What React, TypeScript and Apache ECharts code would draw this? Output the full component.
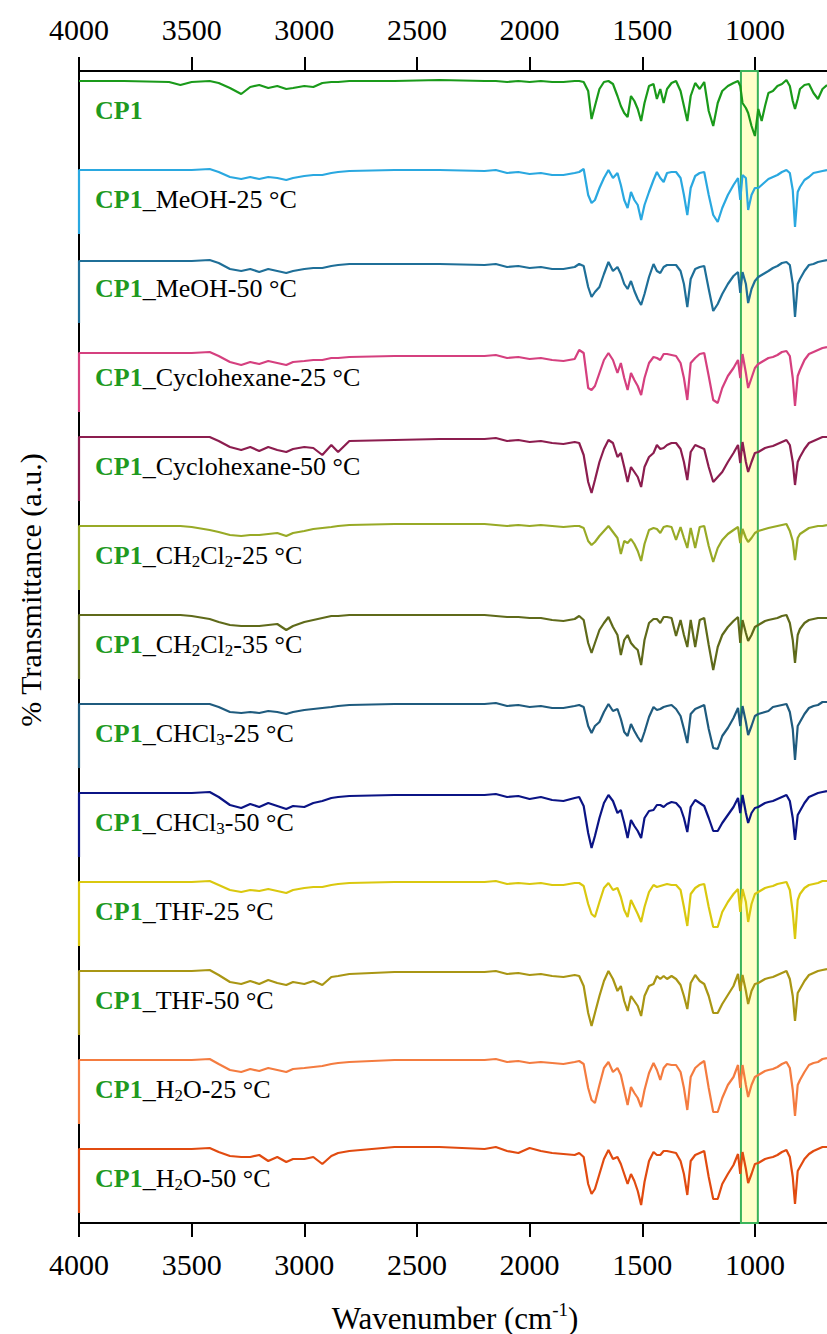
import React, { useEffect, useRef } from "react";
import * as echarts from "echarts";

// ---------- data ----------
const wavenumbers = [
  4000, 3800, 3600, 3550, 3500, 3420, 3380, 3330, 3280, 3240,
  3200, 3160, 3120, 3080, 3050, 3000, 2960, 2920, 2880, 2850,
  2800, 2600, 2400, 2200, 2150, 2100, 2050, 2000, 1950, 1900,
  1850, 1800,
  1780, 1760, 1740, 1725, 1710, 1690, 1670, 1650, 1630, 1610,
  1595, 1580, 1565, 1550, 1535, 1520, 1505, 1490, 1470, 1450,
  1435, 1420, 1405, 1390, 1370, 1350, 1330, 1315, 1300, 1285,
  1265, 1245, 1225, 1205, 1185, 1165, 1145, 1120, 1095, 1075,
  1065, 1055, 1040, 1030, 1015, 1000, 985, 970, 955, 940,
  920, 900, 880, 860, 845, 832, 822, 810, 800, 780,
  760, 740, 720, 700, 680,
];

// relative transmittance of each spectrum (0 = its own baseline, negative = absorption)
const cp1 = [
  0, 0, -1, -4, -1, 0, -2, -7, -13, -6,
  -4, -7, -5, -8, -7, -5, -6, -2, -1, -1,
  0, 0, 1, 0, 0, -1, 0, -1, 0, -1,
  -1, 0,
  0, -1, -10, -38, -25, -8, -1, 0, -3, -15,
  -25, -32, -36, -15, -20, -28, -40, -22, -5, -3,
  -18, -8, -22, -8, -2, 0, -10, -25, -40, -15,
  -2, -8, -1, -30, -45, -22, -10, -5, -2, 0,
  -5, -22, -27, -32, -45, -55, -28, -40, -25, -12,
  -10, -5, -3, 1, -5, -20, -28, -18, -8, -4,
  -3, -12, -18, -8, -4,
];
const meoh25 = [
  0, 0, 0, 0, 0, 1, -2, -7, -9, -7,
  -9, -7, -8, -10, -8, -6, -5, -5, -3, -2,
  -1, 0, 0, -1, 0, -3, -2, -4, -3, -5,
  -5, -3,
  -2, 1, -25, -33, -30, -18, -8, 0, -8, -3,
  -15, -30, -38, -22, -30, -35, -50, -35, -22, -10,
  -2, -8, -12, -3, -2, -2, -8, -25, -45, -18,
  -6, -3, -2, -25, -45, -52, -38, -25, -15, -8,
  -30, -5, -8, -40, -25, -18, -18, -15, -12, -9,
  -7, -5, -2, 0, -3, -20, -57, -22, -17, -10,
  -7, -3, -2, -1, 0,
];
const meoh50 = [
  -2, -2, -2, -2, -2, -1, -4, -10, -12, -10,
  -13, -10, -12, -14, -12, -10, -9, -9, -7, -6,
  -5, -5, -5, -6, -5, -8, -7, -9, -8, -10,
  -10, -8,
  -5, -7, -28, -38, -33, -28, -15, -3, -12, -8,
  -15, -25, -30, -22, -32, -40, -46, -35, -18, -5,
  -12, -14, -8, -6, -6, -6, -12, -25, -48, -20,
  -10, -8, -7, -30, -52, -45, -35, -25, -17, -13,
  -34, -13, -25, -44, -30, -22, -18, -16, -14, -12,
  -9, -7, -4, -3, -6, -25, -58, -25, -20, -12,
  -6, -5, -3, -2, -1,
];
const cyclohexane25 = [
  -5, -5, -5, -5, -5, -4, -8, -14, -17, -14,
  -16, -13, -15, -17, -14, -13, -12, -12, -10, -10,
  -9, -8, -8, -8, -7, -10, -9, -11, -10, -12,
  -13, -11,
  -2, -5, -40, -42, -38, -25, -12, -5, -12, -25,
  -15, -30, -42, -25, -32, -38, -47, -30, -15, -9,
  -10, -12, -6, -6, -7, -8, -15, -30, -52, -15,
  -10, -6, -5, -28, -52, -55, -40, -28, -20, -12,
  -30, -6, -25, -40, -30, -20, -16, -14, -12, -10,
  -9, -7, -4, -3, -8, -30, -58, -28, -22, -12,
  -6, -4, -2, 0, 1,
];
const cyclohexane50 = [
  0, 0, 0, 0, 0, 0, -4, -10, -13, -10,
  -14, -10, -13, -15, -12, -10, -11, -18, -8, -15,
  -4, -3, -2, -2, -1, -4, -3, -5, -4, -6,
  -7, -5,
  -6, -18, -45, -56, -43, -25, -12, -3, -6, -20,
  -16, -30, -45, -30, -35, -40, -50, -30, -20, -16,
  -8, -12, -11, -8, -6, -6, -12, -25, -43, -15,
  -8, -10, -12, -30, -45, -40, -35, -25, -16, -8,
  -26, -5, -25, -35, -25, -16, -15, -13, -11, -10,
  -9, -7, -5, -3, -8, -25, -48, -25, -20, -12,
  -6, -4, -2, 0, 0,
];
const ch2cl2_25 = [
  0, 0, 0, 0, -1, -4, -6, -9, -10, -9,
  -9, -8, -7, -10, -7, -5, -3, -2, -1, 0,
  1, 2, 2, 2, 1, 0, 1, 0, 1, 0,
  -1, 0,
  0, -2, -15, -19, -16, -10, -5, 0, -6, -12,
  -28, -15, -17, -13, -18, -25, -35, -18, -4, -2,
  -3, -7, -1, 0, -1, -14, -1, -12, -22, -2,
  -22, -1, 0, -20, -36, -22, -14, -8, -4, -1,
  -17, -3, -12, -16, -12, -7, -5, -4, -3, -2,
  -1, 0, 1, 2, -5, -15, -34, -12, -8, -5,
  -2, -1, 0, 0, 1,
];
const ch2cl2_35 = [
  0, 0, 0, 0, -1, -4, -7, -10, -11, -11,
  -11, -10, -9, -15, -11, -7, -5, -3, -1, -1,
  0, 0, 0, 0, -1, -2, -2, -3, -3, -5,
  -6, -4,
  -1, -5, -28, -38, -28, -15, -8, -2, -12, -20,
  -40, -25, -20, -28, -32, -35, -50, -25, -8, -4,
  -4, -8, -2, -2, -3, -21, -5, -20, -32, -5,
  -32, -5, -3, -30, -55, -32, -20, -12, -6, -2,
  -28, -5, -18, -26, -20, -12, -10, -8, -6, -5,
  -4, -3, -1, 0, -8, -25, -48, -20, -14, -8,
  -5, -4, -3, -3, -3,
];
const chcl3_25 = [
  0, 0, 0, 0, 0, 0, -3, -8, -9, -8,
  -9, -7, -8, -10, -8, -6, -5, -4, -3, -2,
  -1, 0, 0, 0, 1, -2, -1, -3, -2, -4,
  -4, -2,
  -1, -3, -22, -29, -22, -18, -8, 0, -7, -5,
  -15, -28, -32, -20, -27, -33, -38, -28, -13, -3,
  -6, -5, -3, -2, -1, -5, -12, -25, -39, -10,
  -5, -3, -1, -25, -44, -45, -32, -24, -14, -4,
  -22, -2, -18, -31, -22, -12, -10, -9, -8, -7,
  -3, -2, -1, 0, -8, -25, -56, -22, -18, -10,
  -4, -2, -1, 2, 2,
];
const chcl3_50 = [
  0, 0, 0, 0, 0, 1, -4, -12, -15, -11,
  -14, -10, -13, -16, -13, -14, -10, -8, -5, -4,
  -3, -2, -2, -2, -1, -4, -3, -6, -4, -7,
  -8, -5,
  -4, -13, -40, -55, -43, -25, -10, -2, -8, -20,
  -17, -30, -45, -27, -33, -38, -45, -25, -18, -17,
  -12, -12, -14, -11, -9, -10, -15, -25, -39, -14,
  -7, -10, -13, -25, -38, -38, -30, -22, -14, -5,
  -20, -2, -20, -30, -20, -15, -14, -12, -10, -9,
  -8, -6, -4, -2, -8, -25, -47, -22, -18, -10,
  -4, -2, 0, 1, 2,
];
const thf25 = [
  0, 0, 0, 0, 0, 1, -3, -8, -10, -8,
  -9, -7, -9, -11, -8, -6, -5, -5, -3, -2,
  -1, 0, 0, 0, 1, -2, -1, -2, -1, -3,
  -3, -1,
  -1, -4, -22, -32, -35, -20, -6, -1, -8, -6,
  -15, -28, -35, -18, -25, -32, -40, -25, -10, -3,
  -5, -4, -3, -2, -3, -3, -8, -25, -44, -12,
  -6, -3, -2, -25, -45, -45, -30, -20, -12, -7,
  -30, -7, -20, -40, -22, -12, -10, -8, -6, -5,
  -4, -2, -1, 0, -8, -30, -57, -18, -12, -6,
  -3, -2, -1, 1, 1,
];
const thf50 = [
  0, 0, 0, 0, 0, 1, -4, -11, -13, -10,
  -13, -9, -12, -14, -11, -13, -10, -14, -6, -5,
  -3, -1, -1, -1, 0, -3, -2, -4, -3, -5,
  -6, -4,
  -5, -15, -42, -55, -42, -25, -10, 0, -8, -20,
  -15, -30, -40, -25, -30, -35, -45, -25, -15, -13,
  -5, -8, -5, -8, -5, -8, -14, -25, -38, -12,
  -4, -10, -13, -25, -42, -42, -33, -24, -15, -3,
  -20, -4, -20, -33, -20, -13, -12, -10, -8, -7,
  -6, -4, -2, 0, -8, -25, -50, -22, -18, -10,
  -4, -2, 0, 1, 2,
];
const h2o25 = [
  0, 0, 0, 0, 0, 1, -4, -10, -12, -9,
  -11, -8, -10, -12, -9, -8, -7, -6, -4, -3,
  -2, 0, 0, 0, 1, -2, -1, -3, -2, -3,
  -4, -2,
  -1, -4, -28, -40, -43, -25, -8, -2, -12, -8,
  -15, -30, -45, -27, -33, -38, -47, -30, -13, -3,
  -10, -20, -8, -4, -5, -5, -12, -28, -50, -17,
  -8, -4, -1, -28, -52, -52, -38, -25, -17, -5,
  -28, -5, -25, -37, -25, -17, -15, -13, -11, -10,
  -9, -7, -4, -2, -8, -30, -56, -25, -20, -12,
  -5, -3, -2, 1, 2,
];
const h2o50 = [
  0, 0, 0, 0, 0, 1, -3, -7, -8, -8,
  -6, -12, -8, -13, -10, -10, -8, -15, -7, -4,
  -2, 2, 2, 0, 2, -2, -4, 1, -2, -4,
  -5, -6,
  -4, -8, -35, -45, -40, -25, -10, -1, -10, -8,
  -15, -25, -35, -25, -32, -42, -56, -33, -12, -3,
  -6, -6, -2, -2, -3, -4, -12, -25, -46, -12,
  -6, -4, -2, -28, -50, -50, -35, -25, -16, -5,
  -25, -3, -20, -34, -25, -15, -14, -12, -10, -9,
  -8, -6, -3, -1, -8, -28, -55, -22, -18, -10,
  -5, -2, 0, 2, 2,
];

const spectra = [
  cp1, meoh25, meoh50, cyclohexane25, cyclohexane50, ch2cl2_25, ch2cl2_35,
  chcl3_25, chcl3_50, thf25, thf50, h2o25, h2o50,
];
// drop of each trace's first point at 4000 cm-1 (vertical start segment)
const startDrop = [0, -64, -64, -64, -64, -64, -64, -64, -64, -64, -64, -64, -64];

const sampleName = "CP1";
const labelSuffixes = [
  "", "_MeOH-25 °C", "_MeOH-50 °C", "_Cyclohexane-25 °C", "_Cyclohexane-50 °C",
  "_CH{2}Cl{2}-25 °C", "_CH{2}Cl{2}-35 °C", "_CHCl{3}-25 °C", "_CHCl{3}-50 °C",
  "_THF-25 °C", "_THF-50 °C", "_H{2}O-25 °C", "_H{2}O-50 °C",
];
const colors = [
  "#1a9a1a", "#2aa8e0", "#1f6f98", "#d5407f", "#8c1d4f", "#98aa26", "#5f6a1a",
  "#1f5b7e", "#0b1485", "#dac80f", "#a99614", "#f47c40", "#e14b10",
];
const tickValues = [4000, 3500, 3000, 2500, 2000, 1500, 1000];
const highlightRange = [1062, 987];

// ---------- layout ----------
const FONT = "'Liberation Serif', 'Times New Roman', serif";
const Y_MAX = 1152;
const TRACE_TOP = 1142;
const TRACE_STEP = 89;

export default function App() {
  const ref = useRef<HTMLDivElement>(null);

  useEffect(() => {
    if (!ref.current) return;
    const chart = echarts.init(ref.current, null, { renderer: "svg", width: 827, height: 1334 });

    const xAxisBase = (pos: "top" | "bottom", margin: number) => ({
      type: "value",
      position: pos,
      gridIndex: 0,
      min: 680,
      max: 4000,
      inverse: true,
      axisLine: { show: true, onZero: false, lineStyle: { color: "#000", width: 2 } },
      axisTick: { show: true, length: 14, lineStyle: { color: "#000", width: 2 }, customValues: tickValues },
      axisLabel: {
        show: true,
        customValues: tickValues,
        showMaxLabel: true,
        formatter: (v: number) => String(v),
        fontFamily: FONT,
        fontSize: 30,
        color: "#000",
        margin,
      },
      splitLine: { show: false },
    });

    const series: any[] = spectra.map((vals, i) => {
      const base = TRACE_TOP - TRACE_STEP * i;
      const data: number[][] = [];
      if (startDrop[i] !== 0) data.push([wavenumbers[0], base + startDrop[i]]);
      wavenumbers.forEach((wn, k) => data.push([wn, base + vals[k]]));
      return {
        type: "line",
        name: sampleName + labelSuffixes[i],
        data,
        symbol: "none",
        showSymbol: false,
        silent: true,
        z: 2,
        lineStyle: { color: colors[i], width: 2.2 },
        itemStyle: { color: colors[i] },
      };
    });

    series.push({
      type: "line",
      name: "highlight",
      data: [[1000, -5000]],
      symbol: "none",
      showSymbol: false,
      silent: true,
      z: 10,
      lineStyle: { opacity: 0 },
      markArea: {
        silent: true,
        itemStyle: {
          color: "rgba(255,255,150,0.5)",
          borderColor: "#3bb35a",
          borderWidth: 2,
        },
        data: [[{ xAxis: highlightRange[0] }, { xAxis: highlightRange[1] }]],
      },
    });

    chart.setOption({
      animation: false,
      backgroundColor: "#fff",
      grid: { left: 79, right: 0, top: 71, bottom: 111, containLabel: false },
      xAxis: [xAxisBase("bottom", 26), xAxisBase("top", 27)],
      yAxis: {
        type: "value",
        min: 0,
        max: Y_MAX,
        axisLine: { show: true, lineStyle: { color: "#000", width: 2 } },
        axisTick: { show: false },
        axisLabel: { show: false },
        splitLine: { show: false },
      },
      series,
    });

    const richStyles = {
      b: { fontFamily: FONT, fontSize: 26, fontWeight: "bold", fill: "#1f9a1f", lineHeight: 30 },
      n: { fontFamily: FONT, fontSize: 26, fill: "#000", lineHeight: 30 },
      s: { fontFamily: FONT, fontSize: 17, fill: "#000", lineHeight: 14, verticalAlign: "bottom" },
    };

    const labelGraphics = labelSuffixes.map((suffix, i) => {
      const base = TRACE_TOP - TRACE_STEP * i;
      const p = chart.convertToPixel({ xAxisIndex: 0, yAxisIndex: 0 }, [3929, base - 29]) as number[];
      const parts = suffix.split(/\{(\d)\}/);
      const body = parts
        .map((part, j) => (part ? (j % 2 ? `{s|${part}}` : `{n|${part}}`) : ""))
        .join("");
      return {
        type: "text",
        x: p[0],
        y: p[1],
        silent: true,
        z: 20,
        style: {
          text: `{b|${sampleName}}` + body,
          rich: richStyles,
          align: "left",
          verticalAlign: "middle",
        },
      };
    });

    chart.setOption({
      graphic: [
        ...labelGraphics,
        {
          type: "text",
          x: 30,
          y: 590,
          rotation: Math.PI / 2,
          silent: true,
          style: {
            text: "% Transmittance (a.u.)",
            fontFamily: FONT,
            fontSize: 30,
            fill: "#000",
            align: "center",
            verticalAlign: "middle",
          },
        },
        {
          type: "text",
          x: 455,
          y: 1318,
          silent: true,
          style: {
            text: "{a|Wavenumber (cm}{p|-1}{a|)}",
            rich: {
              a: { fontFamily: FONT, fontSize: 31, fill: "#000", lineHeight: 36 },
              p: { fontFamily: FONT, fontSize: 19, fill: "#000", lineHeight: 18, verticalAlign: "top" },
            },
            align: "center",
            verticalAlign: "middle",
          },
        },
      ],
    });

    return () => chart.dispose();
  }, []);

  return (
    <div
      ref={ref}
      style={{ position: "absolute", left: 0, top: 0, width: 827, height: 1334, background: "#fff" }}
    />
  );
}
